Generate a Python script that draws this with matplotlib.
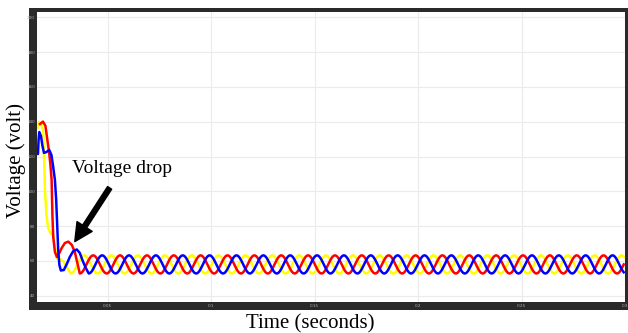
import numpy as np
import matplotlib
matplotlib.use('Agg')
import matplotlib.pyplot as plt
from matplotlib.patches import Rectangle

# transient part of each phase (time in s, voltage in V)
yellow_t = [0.01611, 0.01683, 0.01803, 0.01889, 0.01933, 0.01971, 0.02043, 0.02130,
            0.02245, 0.02370, 0.02452, 0.02534, 0.02692, 0.02885, 0.03053]
yellow_v = [136.4, 139.9, 138.7, 134.1, 118.0, 100.8, 86.4, 78.8,
            75.9, 74.9, 68.2, 61.6, 61.1, 59.4, 56.0]

red_t = [0.01731, 0.01875, 0.01995, 0.02091, 0.02178, 0.02236, 0.02293, 0.02332, 0.02370,
         0.02452, 0.02548, 0.02644, 0.02774, 0.02933, 0.03101, 0.03269, 0.03413]
red_v = [138.7, 140.1, 137.6, 129.5, 121.9, 115.2, 106.6, 86.4, 74.0,
         65.2, 62.3, 64.0, 67.3, 70.3, 71.1, 69.2, 65.2]

blue_t = [0.01587, 0.01635, 0.01663, 0.01697, 0.01779, 0.01851, 0.01923, 0.02043, 0.02178,
          0.02284, 0.02370, 0.02452, 0.02514, 0.02563, 0.02611, 0.02668, 0.02740, 0.02885,
          0.03029, 0.03173, 0.03341, 0.03510, 0.03654, 0.03798, 0.03942]
blue_v = [121.5, 121.5, 129.5, 134.1, 131.8, 126.1, 122.1, 122.6, 123.8,
          120.9, 114.0, 106.6, 95.1, 80.7, 66.3, 57.7, 54.5, 54.8,
          58.3, 62.3, 65.7, 66.6, 64.6, 60.0, 56.0]

# steady-state ripple after the drop
wave_center = 58.0
wave_amplitude = 5.2
wave_period = 0.01298
first_trough = {'yellow': 0.03221, 'red': 0.03654, 'blue': 0.04087}

x_ticks = [0.05, 0.1, 0.15, 0.2, 0.25, 0.3]
x_tick_labels = ['0.05', '0.1', '0.15', '0.2', '0.25', '0.3']
y_ticks = [40, 60, 80, 100, 120, 140, 160, 180, 200]

W, H = 628, 333
fig = plt.figure(figsize=(W / 100, H / 100), dpi=100)
fig.patch.set_facecolor('white')

frame = '#2a2a2a'


def px_rect(x0, y0, x1, y1):
    # rectangle given in image pixels (origin top-left)
    return Rectangle((x0 / W, 1 - y1 / H), (x1 - x0) / W, (y1 - y0) / H,
                     transform=fig.transFigure, facecolor=frame, edgecolor='none', zorder=0)


for r in (px_rect(29, 8, 37, 310), px_rect(29, 302, 628, 310),
          px_rect(29, 8, 628, 11.5), px_rect(625, 8, 627.5, 310)):
    fig.add_artist(r)

ax = fig.add_axes([37 / W, 1 - 302 / H, (625 - 37) / W, (302 - 12) / H])
ax.set_facecolor('white')
for s in ax.spines.values():
    s.set_visible(False)

t_end = 0.2986
series = [('yellow', '#ffff00', yellow_t, yellow_v),
          ('red', '#ff0000', red_t, red_v),
          ('blue', '#0000ff', blue_t, blue_v)]
for name, color, tt, vv in series:
    ts = np.arange(first_trough[name], t_end + 0.001, wave_period / 60)
    vs = wave_center - wave_amplitude * np.cos(2 * np.pi * (ts - first_trough[name]) / wave_period)
    ax.plot(np.concatenate([tt, ts]), np.concatenate([vv, vs]),
            color=color, lw=1.8, solid_joinstyle='round', zorder=3)

ax.set_xlim(0.01587, t_end)
ax.set_ylim(36.4, 203.1)
ax.set_xticks(x_ticks)
ax.set_xticklabels(x_tick_labels)
ax.set_yticks(y_ticks)
ax.grid(True, color='#ebebeb', lw=0.8)
ax.set_axisbelow(True)
ax.tick_params(axis='both', length=0, labelsize=3, labelcolor='#b0b0b0')
ax.tick_params(axis='y', pad=1.5)
ax.tick_params(axis='x', pad=1.2)

serif = ['Liberation Serif', 'DejaVu Serif']
ax.text(0.03269, 113.4, 'Voltage drop', family=serif, fontsize=14, va='center', ha='left')
ax.annotate('', xy=(0.03413, 71.1), xytext=(0.05096, 102),
            arrowprops=dict(facecolor='black', edgecolor='black', width=3.5,
                            headwidth=13, headlength=13, shrink=0))

fig.text(16 / W, 1 - 161 / H, 'Voltage (volt)', family=serif, fontsize=15,
         rotation=90, ha='center', va='center')
fig.text(310 / W, 1 - 324 / H, 'Time (seconds)', family=serif, fontsize=15,
         ha='center', va='center')

fig.savefig('out.png', dpi=100)
